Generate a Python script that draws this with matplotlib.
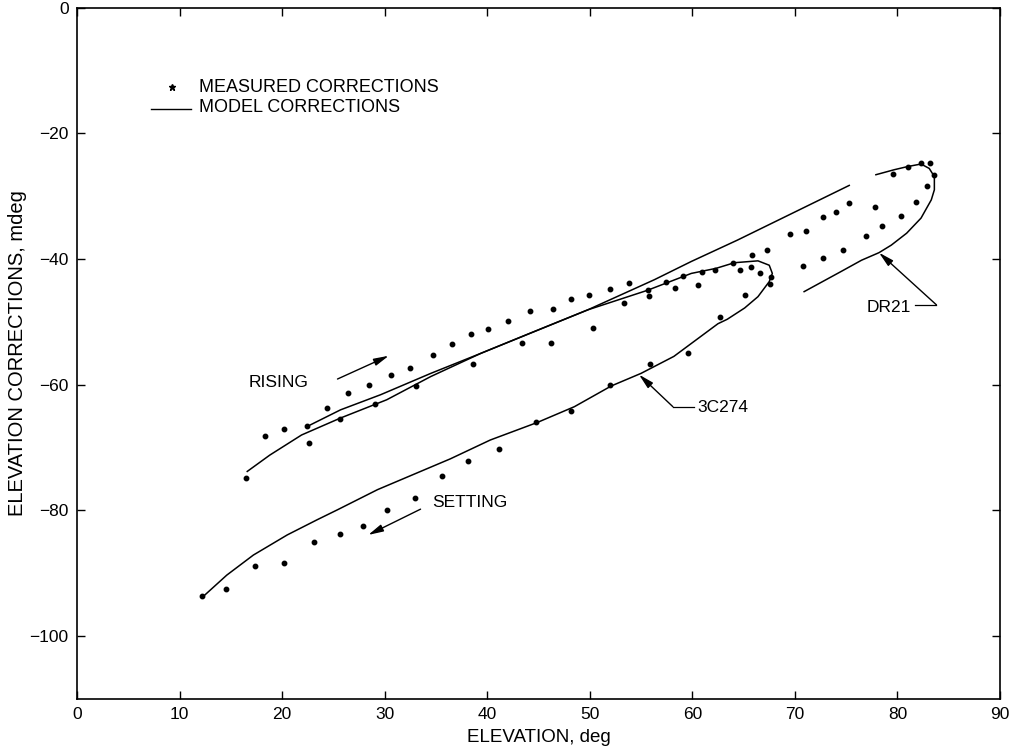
import matplotlib
matplotlib.use("Agg")
import matplotlib.pyplot as plt

plt.rcParams["font.family"] = ["Liberation Sans", "DejaVu Sans"]

# Measured corrections, 3C274 (rising then setting) and DR21
c3_meas_x = [16.5, 18.3, 20.2, 22.4, 22.6, 24.4, 25.6, 26.4, 28.5, 29.1, 30.6, 32.5,
             33.1, 34.7, 36.6, 38.4, 38.6, 40.1, 42.0, 43.4, 44.2, 46.2, 46.4, 48.2,
             49.9, 50.3, 52.0, 53.3, 53.8, 55.7, 55.8, 57.4, 58.3, 59.1, 60.6, 60.9,
             62.2, 64.0, 64.6, 65.7, 65.8, 66.6, 67.7, 67.6,
             65.1, 62.7, 59.6, 55.9, 52.0, 48.2, 44.8, 41.1, 38.1, 35.6, 33.0, 30.2,
             27.9, 25.6, 23.1, 20.2, 17.4, 14.5, 12.2]
c3_meas_y = [-74.8, -68.1, -67.1, -66.5, -69.3, -63.7, -65.4, -61.4, -60.0, -63.1, -58.5, -57.4,
             -60.2, -55.2, -53.6, -52.0, -56.7, -51.2, -49.8, -53.4, -48.2, -53.3, -48.0, -46.3,
             -45.7, -51.0, -44.7, -47.0, -43.9, -44.9, -45.9, -43.7, -44.6, -42.7, -44.1, -42.1,
             -41.8, -40.6, -41.8, -41.3, -39.4, -42.2, -42.9, -44.0,
             -45.8, -49.2, -54.9, -56.7, -60.1, -64.2, -65.9, -70.3, -72.2, -74.6, -78.0, -79.9,
             -82.5, -83.7, -85.1, -88.3, -88.9, -92.5, -93.6]

dr_meas_x = [67.3, 69.5, 71.1, 72.7, 74.0, 75.3, 77.8, 79.6, 81.0, 82.3, 83.2, 83.6,
             82.9, 81.8, 80.3, 78.5, 76.9, 74.7, 72.7, 70.8]
dr_meas_y = [-38.5, -36.1, -35.5, -33.4, -32.5, -31.1, -31.7, -26.5, -25.4, -24.8, -24.8, -26.6,
             -28.4, -30.9, -33.1, -34.7, -36.3, -38.6, -39.9, -41.1]

# Model corrections
c3_model_x = [16.6, 18.8, 21.9, 25.7, 30.2, 34.5, 39.4, 44.5, 49.8, 55.6, 59.9, 62.3,
              64.1, 66.4, 67.5, 67.8, 67.5, 66.4, 65.1, 63.4, 62.5, 58.2, 55.0, 52.1,
              48.5, 44.9, 40.3, 36.4, 33.5, 29.3, 25.4, 23.4, 20.5, 17.2, 14.6, 12.3]
c3_model_y = [-73.8, -71.2, -68.0, -65.3, -62.4, -58.7, -55.0, -51.6, -48.1, -45.0, -42.3, -41.5,
              -40.6, -40.3, -41.0, -42.3, -43.6, -46.0, -47.8, -49.6, -50.3, -55.5, -58.2, -60.2,
              -63.5, -66.0, -68.8, -71.8, -73.8, -76.7, -79.9, -81.5, -83.9, -87.1, -90.3, -93.7]

dr_rise_x = [22.75, 25.7, 29.6, 34.5, 39.4, 49.8, 56.3, 59.9, 64.4, 75.3]
dr_rise_y = [-66.4, -64.0, -61.6, -58.2, -55.0, -48.1, -43.3, -40.4, -37.0, -28.3]

dr_top_x = [77.9, 79.7, 81.0, 82.3, 83.1, 83.6, 83.6, 83.3, 82.3, 80.9, 79.4, 78.2, 76.5, 74.5, 70.9]
dr_top_y = [-26.6, -25.8, -25.3, -24.9, -25.6, -26.9, -29.0, -30.6, -33.5, -35.9, -37.8, -39.0,
            -40.2, -42.0, -45.2]

x_ticks = [0, 10, 20, 30, 40, 50, 60, 70, 80, 90]
y_ticks = [0, -20, -40, -60, -80, -100]

fig = plt.figure(figsize=(10.11, 7.52), dpi=100)
ax = fig.add_axes([77 / 1011, 1 - 699 / 752, 923 / 1011, 691.5 / 752])

dot = dict(ls="none", marker="o", ms=3.2, color="black")
ax.plot(c3_meas_x, c3_meas_y, **dot)
ax.plot(dr_meas_x, dr_meas_y, **dot)

ax.plot(c3_model_x, c3_model_y, color="black", lw=1.1)
ax.plot(dr_rise_x, dr_rise_y, color="black", lw=1.1)
ax.plot(dr_top_x, dr_top_y, color="black", lw=1.1)

# legend drawn by hand like the original
ax.plot([9.25], [-12.7], ls="none", marker="*", ms=5, color="black")
ax.text(11.9, -12.7, "MEASURED CORRECTIONS", fontsize=13, va="center")
ax.plot([7.2, 11.1], [-16.1, -16.1], color="black", lw=1.0)
ax.text(11.9, -15.9, "MODEL CORRECTIONS", fontsize=13, va="center")

arrow = dict(arrowstyle="-|>,head_length=0.9,head_width=0.22", color="black", lw=1.0,
             shrinkA=0, shrinkB=0)
ax.text(16.7, -59.7, "RISING", fontsize=12.5, va="center")
ax.annotate("", xy=(30.4, -55.4), xytext=(25.4, -59.1), arrowprops=arrow)
ax.text(34.6, -78.8, "SETTING", fontsize=12.5, va="center")
ax.annotate("", xy=(28.4, -83.9), xytext=(33.5, -79.8), arrowprops=arrow)

ax.text(60.5, -63.7, "3C274", fontsize=12.5, va="center")
ax.plot([58.1, 60.2], [-63.5, -63.5], color="black", lw=0.9)
ax.annotate("", xy=(54.8, -58.4), xytext=(58.1, -63.5), arrowprops=arrow)

ax.text(77.0, -47.8, "DR21", fontsize=12.5, va="center")
ax.plot([81.7, 83.8], [-47.3, -47.3], color="black", lw=0.9)
ax.annotate("", xy=(78.2, -39.0), xytext=(83.8, -47.3), arrowprops=arrow)

ax.set_xlim(0, 90)
ax.set_ylim(-110, 0)
ax.set_xticks(x_ticks)
ax.set_yticks(y_ticks)
ax.tick_params(direction="in", length=6, width=1, top=True, right=True, labelsize=12.5, pad=6)
for s in ax.spines.values():
    s.set_linewidth(1.2)
ax.set_xlabel("ELEVATION, deg", fontsize=13.5, labelpad=5)
ax.set_ylabel("ELEVATION CORRECTIONS, mdeg", fontsize=14.5, labelpad=2)

fig.savefig("out.png", dpi=100)
